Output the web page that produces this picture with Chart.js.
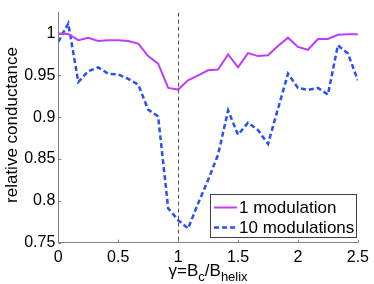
<!DOCTYPE html>
<html>
<head>
<meta charset="utf-8">
<script src="https://cdn.jsdelivr.net/npm/chart.js@4/dist/chart.umd.min.js"></script>
<style>
  html, body { margin: 0; padding: 0; background: #fff; }
  #wrap { width: 374px; height: 284px; }
</style>
</head>
<body>
<div id="wrap"><canvas id="chart-1" width="374" height="284"></canvas></div>
<script>
// gamma = Bc / Bhelix
var gamma_values = [0, 0.083, 0.167, 0.25, 0.333, 0.417, 0.5, 0.583, 0.667, 0.75,
    0.833, 0.917, 1, 1.083, 1.167, 1.25, 1.333, 1.417, 1.5, 1.583,
    1.667, 1.75, 1.833, 1.917, 2, 2.083, 2.167, 2.25, 2.333, 2.417, 2.5];

var one_modulation = [1.0, 0.9995, 0.992, 0.995, 0.991, 0.992, 0.992, 0.991, 0.988, 0.973,
    0.964, 0.935, 0.933, 0.944, 0.950, 0.956, 0.957, 0.975, 0.9595, 0.9766,
    0.973, 0.974, 0.985, 0.995, 0.984, 0.9806, 0.9934, 0.9934, 0.9985, 0.999, 0.999];

var ten_modulations = [0.990, 1.012, 0.942, 0.955, 0.9595, 0.952, 0.951, 0.9458, 0.939, 0.909,
    0.901, 0.791, 0.777, 0.767, 0.797, 0.825, 0.855, 0.908, 0.879, 0.8935,
    0.8845, 0.868, 0.91, 0.952, 0.935, 0.9325, 0.935, 0.927, 0.986, 0.976, 0.944];

var x_ticks = [0, 0.5, 1, 1.5, 2, 2.5];
var y_ticks = [0.75, 0.8, 0.85, 0.9, 0.95, 1];
var series_labels = ["1 modulation", "10 modulations"];

var purple = 'rgb(190, 60, 250)';
var blue = 'rgb(40, 80, 250)';
var axis_color = '#808080';
var font_family = '"Liberation Sans", Arial, sans-serif';

function toPoints(xs, ys) {
    var pts = [];
    for (let i = 0; i < xs.length; i++) {
        pts.push({ x: xs[i], y: ys[i] });
    }
    return pts;
}

Chart.defaults.font.family = font_family;
Chart.defaults.font.size = 16;
Chart.defaults.color = '#000';

// dashed marker line, inward tick marks, legend box and axis titles
var extrasPlugin = {
    id: 'extras',
    afterDatasetsDraw: function(chart) {
        const ctx = chart.ctx;
        const xs = chart.scales.x;
        const ys = chart.scales.y;
        const area = chart.chartArea;

        // dashed line at gamma = 1
        ctx.save();
        ctx.strokeStyle = '#505050';
        ctx.lineWidth = 1;
        ctx.setLineDash([4, 3]);
        const px = Math.round(xs.getPixelForValue(1)) + 0.5;
        ctx.beginPath();
        ctx.moveTo(px, area.top);
        ctx.lineTo(px, area.bottom);
        ctx.stroke();
        ctx.restore();

        // tick marks pointing inward
        ctx.save();
        ctx.strokeStyle = axis_color;
        ctx.lineWidth = 1;
        ctx.beginPath();
        x_ticks.forEach(function(v) {
            const p = Math.round(xs.getPixelForValue(v)) + 0.5;
            ctx.moveTo(p, area.bottom);
            ctx.lineTo(p, area.bottom - 3);
        });
        y_ticks.forEach(function(v) {
            const p = Math.round(ys.getPixelForValue(v)) + 0.5;
            ctx.moveTo(area.left, p);
            ctx.lineTo(area.left + 3, p);
        });
        ctx.stroke();
        ctx.restore();

        // legend
        ctx.save();
        const bx = 210.5, by = 194.5, bw = 146, bh = 43;
        ctx.fillStyle = '#fff';
        ctx.fillRect(bx, by, bw, bh);
        ctx.strokeStyle = '#404040';
        ctx.lineWidth = 1;
        ctx.strokeRect(bx, by, bw, bh);
        const rows = [207.5, 227.5];
        const colors = [purple, blue];
        const dashes = [[], [5, 3]];
        for (let i = 0; i < 2; i++) {
            ctx.strokeStyle = colors[i];
            ctx.lineWidth = i === 0 ? 2 : 2.5;
            ctx.setLineDash(dashes[i]);
            ctx.beginPath();
            ctx.moveTo(214, rows[i]);
            ctx.lineTo(237, rows[i]);
            ctx.stroke();
            ctx.setLineDash([]);
            ctx.fillStyle = '#000';
            ctx.font = '17px ' + font_family;
            ctx.textBaseline = 'middle';
            ctx.textAlign = 'left';
            ctx.fillText(series_labels[i], 239, rows[i] + 1);
        }
        ctx.restore();

        // y title
        ctx.save();
        ctx.fillStyle = '#000';
        ctx.font = '17px ' + font_family;
        ctx.translate(17, 125);
        ctx.rotate(-Math.PI / 2);
        ctx.textAlign = 'center';
        ctx.textBaseline = 'alphabetic';
        ctx.fillText('relative conductance', 0, 0);
        ctx.restore();

        // x title with subscripts
        ctx.save();
        ctx.fillStyle = '#000';
        ctx.textBaseline = 'alphabetic';
        ctx.textAlign = 'left';
        const parts = [
            { t: '\u03b3=B', sub: false },
            { t: 'c', sub: true },
            { t: '/B', sub: false },
            { t: 'helix', sub: true }
        ];
        let total = 0;
        parts.forEach(function(p) {
            ctx.font = (p.sub ? '13px ' : '17px ') + font_family;
            p.w = ctx.measureText(p.t).width;
            total += p.w;
        });
        let cx = (area.left + area.right) / 2 - total / 2;
        parts.forEach(function(p) {
            ctx.font = (p.sub ? '13px ' : '17px ') + font_family;
            ctx.fillText(p.t, cx, p.sub ? 281 : 276);
            cx += p.w;
        });
        ctx.restore();
    }
};

const ctx = document.getElementById("chart-1").getContext("2d");
const myChart = new Chart(ctx, {
    type: "line",
    data: {
        datasets: [{
            label: series_labels[0],
            data: toPoints(gamma_values, one_modulation),
            borderColor: purple,
            backgroundColor: purple,
            borderWidth: 2,
            pointRadius: 0,
            tension: 0,
        }, {
            label: series_labels[1],
            data: toPoints(gamma_values, ten_modulations),
            borderColor: blue,
            backgroundColor: blue,
            borderWidth: 2.5,
            borderDash: [5, 3],
            pointRadius: 0,
            tension: 0,
        }],
    },
    options: {
        responsive: false,
        animation: false,
        events: [],
        layout: {
            padding: { top: 8, right: 13, left: 0, bottom: 0 },
        },
        plugins: {
            legend: { display: false },
            tooltip: { enabled: false },
        },
        scales: {
            x: {
                type: 'linear',
                min: 0,
                max: 2.5,
                afterBuildTicks: function(scale) {
                    scale.ticks = x_ticks.map(function(v) { return { value: v }; });
                },
                afterFit: function(scale) {
                    scale.height = 41.3;
                },
                grid: { drawOnChartArea: false, drawTicks: false },
                border: { display: true, color: axis_color, width: 1 },
                ticks: {
                    padding: 5,
                    maxRotation: 0,
                    font: { size: 16 },
                    callback: function(v) { return String(v); },
                },
            },
            y: {
                type: 'linear',
                min: 0.75,
                max: 1.025,
                afterBuildTicks: function(scale) {
                    scale.ticks = y_ticks.map(function(v) { return { value: v }; });
                },
                afterFit: function(scale) {
                    scale.width = 58.3;
                },
                grid: { drawOnChartArea: false, drawTicks: false },
                border: { display: true, color: axis_color, width: 1 },
                ticks: {
                    padding: 3,
                    font: { size: 16 },
                    callback: function(v) { return String(v); },
                },
            },
        },
    },
    plugins: [extrasPlugin],
});
</script>
</body>
</html>
